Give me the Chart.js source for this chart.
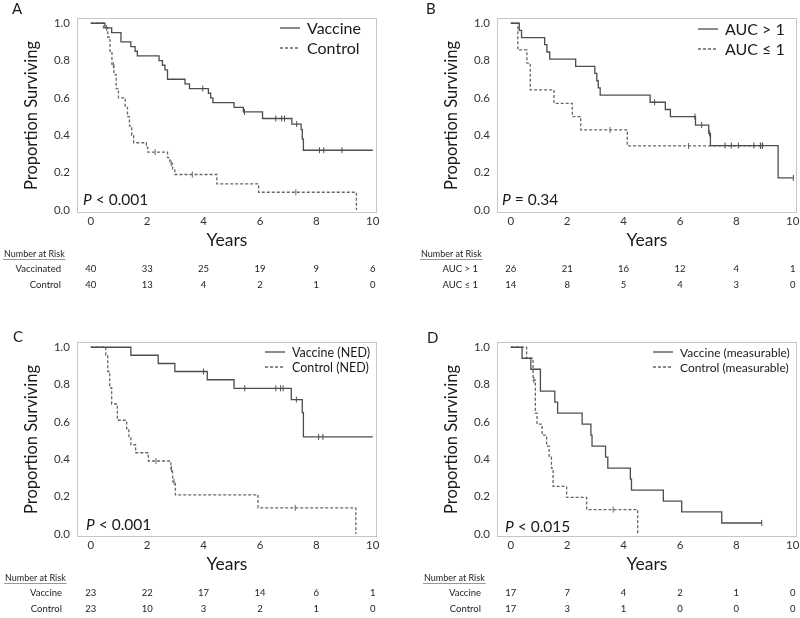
<!DOCTYPE html>
<html>
<head>
<meta charset="utf-8">
<script src="https://cdn.jsdelivr.net/npm/chart.js@4"></script>
<style>
  html, body { margin: 0; padding: 0; background: #fff; }
  body { width: 800px; height: 618px; position: relative; overflow: hidden; }
  canvas { position: absolute; }
</style>
</head>
<body>
<canvas id="panelA" width="400" height="300" style="left:0;top:0"></canvas>
<canvas id="panelB" width="400" height="300" style="left:420px;top:0"></canvas>
<canvas id="panelC" width="400" height="294" style="left:0;top:324px"></canvas>
<canvas id="panelD" width="400" height="294" style="left:420px;top:324px"></canvas>
<script>
// axis ticks
const yearTicks = [0, 2, 4, 6, 8, 10];
const survTicks = [0, 0.2, 0.4, 0.6, 0.8, 1.0];

// A - all patients
const aVaccineYears = [0, 0.5, 0.74, 1.07, 1.42, 1.57, 1.65, 2.42, 2.54, 2.63, 2.72, 3.34, 3.5, 4.17, 4.25, 4.33, 5.08, 5.41, 6.09, 7.13, 7.46, 7.5, 7.54, 10];
const aVaccineSurv = [1, 0.975, 0.95, 0.9, 0.875, 0.85, 0.825, 0.8, 0.775, 0.75, 0.7, 0.675, 0.65, 0.625, 0.6, 0.575, 0.55, 0.525, 0.49, 0.46, 0.43, 0.38, 0.32, 0.32];
const aVaccineCensor = [3.97, 5.45, 6.56, 6.77, 6.87, 7.3, 8.11, 8.26, 8.91];
const aControlYears = [0, 0.45, 0.6, 0.68, 0.75, 0.82, 0.9, 0.98, 1.22, 1.3, 1.37, 1.45, 1.52, 1.97, 2.02, 2.72, 2.8, 2.9, 2.98, 4.47, 5.95, 9.42];
const aControlSurv = [1, 0.975, 0.925, 0.85, 0.775, 0.725, 0.65, 0.6, 0.55, 0.5, 0.45, 0.4, 0.36, 0.335, 0.31, 0.28, 0.25, 0.22, 0.19, 0.14, 0.095, 0];
const aControlCensor = [0.56, 0.8, 2.28, 2.85, 3.6, 7.27];
const aRiskVaccine = [40, 33, 25, 19, 9, 6];
const aRiskControl = [40, 13, 4, 2, 1, 0];

// B - by AUC
const bHighYears = [0, 0.3, 0.38, 1.2, 1.28, 1.38, 2.3, 2.98, 3.05, 3.1, 3.17, 4.94, 5.48, 5.66, 6.55, 7.02, 7.08, 9.48, 10.02];
const bHighSurv = [1, 0.962, 0.923, 0.885, 0.846, 0.808, 0.769, 0.731, 0.692, 0.654, 0.615, 0.577, 0.538, 0.5, 0.455, 0.41, 0.345, 0.172, 0.172];
const bHighCensor = [5.1, 6.53, 6.77, 7.05, 7.6, 7.82, 8.07, 8.62, 8.86, 8.93, 10.02];
const bLowYears = [0, 0.25, 0.57, 0.69, 1.53, 2.18, 2.48, 4.13, 8.92];
const bLowSurv = [1, 0.857, 0.786, 0.643, 0.571, 0.5, 0.429, 0.343, 0.343];
const bLowCensor = [3.52, 6.3, 8.85, 8.92];
const bRiskHigh = [26, 21, 16, 12, 4, 1];
const bRiskLow = [14, 8, 5, 4, 3, 0];

// C - NED
const cVaccineYears = [0, 1.42, 2.39, 2.98, 4.13, 5.08, 7.11, 7.5, 7.54, 10];
const cVaccineSurv = [1, 0.957, 0.913, 0.87, 0.826, 0.78, 0.72, 0.65, 0.52, 0.52];
const cVaccineCensor = [4.0, 5.46, 6.56, 6.73, 6.82, 7.29, 8.08, 8.23];
const cControlYears = [0, 0.53, 0.6, 0.67, 0.74, 0.94, 1.27, 1.35, 1.42, 1.59, 2.04, 2.84, 2.9, 3.0, 5.93, 9.4];
const cControlSurv = [1, 0.957, 0.87, 0.783, 0.696, 0.609, 0.565, 0.522, 0.478, 0.435, 0.391, 0.348, 0.28, 0.21, 0.14, 0];
const cControlCensor = [2.31, 2.86, 2.95, 7.25];
const cRiskVaccine = [23, 22, 17, 14, 6, 1];
const cRiskControl = [23, 10, 3, 2, 1, 0];

// D - measurable disease
const dVaccineYears = [0, 0.4, 0.71, 1.05, 1.56, 1.66, 2.53, 2.84, 2.88, 3.36, 3.44, 4.24, 4.28, 5.41, 6.06, 7.48, 8.9];
const dVaccineSurv = [1, 0.941, 0.882, 0.765, 0.706, 0.647, 0.588, 0.529, 0.471, 0.412, 0.353, 0.294, 0.235, 0.176, 0.118, 0.059, 0.059];
const dVaccineCensor = [8.9];
const dControlYears = [0, 0.56, 0.79, 0.87, 0.93, 1.11, 1.27, 1.36, 1.44, 1.5, 1.98, 2.69, 4.5];
const dControlSurv = [1, 0.941, 0.824, 0.647, 0.588, 0.529, 0.471, 0.412, 0.353, 0.255, 0.196, 0.131, 0];
const dControlCensor = [0.82, 3.63];
const dRiskVaccine = [17, 7, 4, 2, 1, 0];
const dRiskControl = [17, 3, 1, 0, 0, 0];

const FONT = 'Lato, "Open Sans", sans-serif';
const SOLID = '#4d4d4d';
const DASHED = '#666666';
const TEXT = '#1a1a1a';

function xy(years, surv) {
    return years.map((t, i) => ({ x: t, y: surv[i] }));
}

// survival value of a step curve at time t
function survAt(years, surv, t) {
    let s = surv[0];
    for (let i = 0; i < years.length; i++) {
        if (years[i] <= t) s = surv[i];
    }
    return s;
}

function censorPoints(years, surv, censor) {
    return censor.map(t => ({ x: t, y: survAt(years, surv, t) }));
}

// frame, letter, legend, P value and number-at-risk table
const kmDecor = {
    id: "kmDecor",
    beforeDatasetsDraw(chart) {
        const { ctx, chartArea: a } = chart;
        ctx.save();
        ctx.strokeStyle = "#c6c6c6";
        ctx.lineWidth = 1;
        ctx.strokeRect(a.left + 0.5, a.top + 0.5, a.right - a.left - 1, a.bottom - a.top - 1);
        ctx.restore();
    },
    afterDraw(chart, args, o) {
        const { ctx, chartArea: a, scales: { x } } = chart;
        ctx.save();
        ctx.textBaseline = "middle";
        ctx.textAlign = "left";
        ctx.fillStyle = TEXT;

        ctx.font = "15px " + FONT;
        ctx.fillText(o.letter, o.letterX, o.letterY);

        // legend
        ctx.font = o.legendSize + "px " + FONT;
        chart.data.datasets.slice(0, 2).forEach((ds, i) => {
            const y = o.legendY + i * o.legendGap;
            ctx.strokeStyle = ds.borderColor;
            ctx.lineWidth = ds.borderWidth;
            ctx.setLineDash(ds.borderDash || []);
            ctx.beginPath();
            ctx.moveTo(o.legendX, y);
            ctx.lineTo(o.legendX + 20, y);
            ctx.stroke();
            ctx.fillText(ds.label, o.legendX + 27, y + 1);
        });
        ctx.setLineDash([]);

        // P value
        ctx.font = "italic 15.5px " + FONT;
        ctx.fillText("P", o.pX, o.pY);
        const pw = ctx.measureText("P").width;
        ctx.font = "15.5px " + FONT;
        ctx.fillText(" " + o.pText, o.pX + pw, o.pY);

        // number at risk
        const top = a.bottom;
        ctx.fillStyle = "#222";
        ctx.font = "9px " + FONT;
        ctx.fillText("Number at Risk", o.tableX, top + 41);
        const w = ctx.measureText("Number at Risk").width;
        ctx.strokeStyle = "#9a9a9a";
        ctx.lineWidth = 1;
        ctx.beginPath();
        ctx.moveTo(o.tableX - 1, top + 46.5);
        ctx.lineTo(o.tableX + w + 1, top + 46.5);
        ctx.stroke();

        ctx.font = "9.5px " + FONT;
        o.riskLabels.forEach((label, r) => {
            const y = top + 56 + r * 16;
            ctx.textAlign = "right";
            ctx.fillText(label, o.tableX + 57, y);
            ctx.textAlign = "center";
            o.riskRows[r].forEach((n, j) => {
                ctx.fillText(String(n), x.getPixelForValue(yearTicks[j]), y);
            });
        });
        ctx.restore();
    },
};

function makePanel(id, p) {
    const ctx = document.getElementById(id).getContext("2d");
    return new Chart(ctx, {
        type: "line",
        data: {
            datasets: [
                {
                    label: p.labels[0],
                    data: xy(p.years[0], p.surv[0]),
                    stepped: true,
                    borderColor: SOLID,
                    borderWidth: 1.3,
                    pointRadius: 0,
                    fill: false,
                },
                {
                    label: p.labels[1],
                    data: xy(p.years[1], p.surv[1]),
                    stepped: true,
                    borderColor: DASHED,
                    borderWidth: 1.3,
                    borderDash: [3, 2],
                    pointRadius: 0,
                    fill: false,
                },
                {
                    type: "scatter",
                    data: censorPoints(p.years[0], p.surv[0], p.censor[0]),
                    pointStyle: "line",
                    rotation: 90,
                    pointRadius: 3,
                    borderColor: SOLID,
                    borderWidth: 1,
                },
                {
                    type: "scatter",
                    data: censorPoints(p.years[1], p.surv[1], p.censor[1]),
                    pointStyle: "line",
                    rotation: 90,
                    pointRadius: 3,
                    borderColor: DASHED,
                    borderWidth: 1,
                },
            ],
        },
        options: {
            responsive: false,
            animation: false,
            events: [],
            layout: { padding: { top: 18, left: 22, right: 23, bottom: p.bottomPad } },
            scales: {
                x: {
                    type: "linear",
                    min: -0.49,
                    max: 10.15,
                    afterBuildTicks: (s) => { s.ticks = yearTicks.map(v => ({ value: v })); },
                    afterFit: (s) => { s.height = 38; },
                    grid: { display: false, drawTicks: false, tickLength: 0 },
                    border: { display: false },
                    ticks: { padding: 1, color: "#333", font: { family: FONT, size: 11.5 } },
                    title: {
                        display: true,
                        text: "Years",
                        padding: 0,
                        color: TEXT,
                        font: { family: FONT, size: 17.5 },
                    },
                },
                y: {
                    type: "linear",
                    min: -0.016,
                    max: 1.028,
                    afterBuildTicks: (s) => { s.ticks = survTicks.map(v => ({ value: v })); },
                    afterFit: (s) => { s.width = 55; },
                    grid: { display: false, drawTicks: false, tickLength: 0 },
                    border: { display: false },
                    ticks: {
                        padding: 7,
                        color: "#333",
                        font: { family: FONT, size: 11.5 },
                        callback: (v) => Number(v).toFixed(1),
                    },
                    title: {
                        display: true,
                        text: "Proportion Surviving",
                        padding: 0,
                        color: TEXT,
                        font: { family: FONT, size: 16.5 },
                    },
                },
            },
            plugins: {
                legend: { display: false },
                tooltip: { enabled: false },
                kmDecor: p.decor,
            },
        },
        plugins: [kmDecor],
    });
}

document.addEventListener("DOMContentLoaded", () => {
    makePanel("panelA", {
        labels: ["Vaccine", "Control"],
        years: [aVaccineYears, aControlYears],
        surv: [aVaccineSurv, aControlSurv],
        censor: [aVaccineCensor, aControlCensor],
        bottomPad: 49,
        decor: {
            letter: "A", letterX: 12, letterY: 9,
            legendX: 280, legendY: 28, legendGap: 20, legendSize: 16,
            pX: 83, pY: 200, pText: "< 0.001",
            tableX: 4, riskLabels: ["Vaccinated", "Control"], riskRows: [aRiskVaccine, aRiskControl],
        },
    });
    makePanel("panelB", {
        labels: ["AUC > 1", "AUC \u2264 1"],
        years: [bHighYears, bLowYears],
        surv: [bHighSurv, bLowSurv],
        censor: [bHighCensor, bLowCensor],
        bottomPad: 49,
        decor: {
            letter: "B", letterX: 6, letterY: 9,
            legendX: 278, legendY: 29, legendGap: 20, legendSize: 16,
            pX: 82, pY: 200, pText: "= 0.34",
            tableX: 1, riskLabels: ["AUC > 1", "AUC \u2264 1"], riskRows: [bRiskHigh, bRiskLow],
        },
    });
    makePanel("panelC", {
        labels: ["Vaccine (NED)", "Control (NED)"],
        years: [cVaccineYears, cControlYears],
        surv: [cVaccineSurv, cControlSurv],
        censor: [cVaccineCensor, cControlCensor],
        bottomPad: 43,
        decor: {
            letter: "C", letterX: 13, letterY: 13,
            legendX: 265, legendY: 28, legendGap: 15, legendSize: 12.5,
            pX: 86, pY: 201, pText: "< 0.001",
            tableX: 5, riskLabels: ["Vaccine", "Control"], riskRows: [cRiskVaccine, cRiskControl],
        },
    });
    makePanel("panelD", {
        labels: ["Vaccine (measurable)", "Control (measurable)"],
        years: [dVaccineYears, dControlYears],
        surv: [dVaccineSurv, dControlSurv],
        censor: [dVaccineCensor, dControlCensor],
        bottomPad: 43,
        decor: {
            letter: "D", letterX: 7, letterY: 14,
            legendX: 233, legendY: 28, legendGap: 15, legendSize: 12,
            pX: 85, pY: 203, pText: "< 0.015",
            tableX: 4, riskLabels: ["Vaccine", "Control"], riskRows: [dRiskVaccine, dRiskControl],
        },
    });
});
</script>
</body>
</html>
